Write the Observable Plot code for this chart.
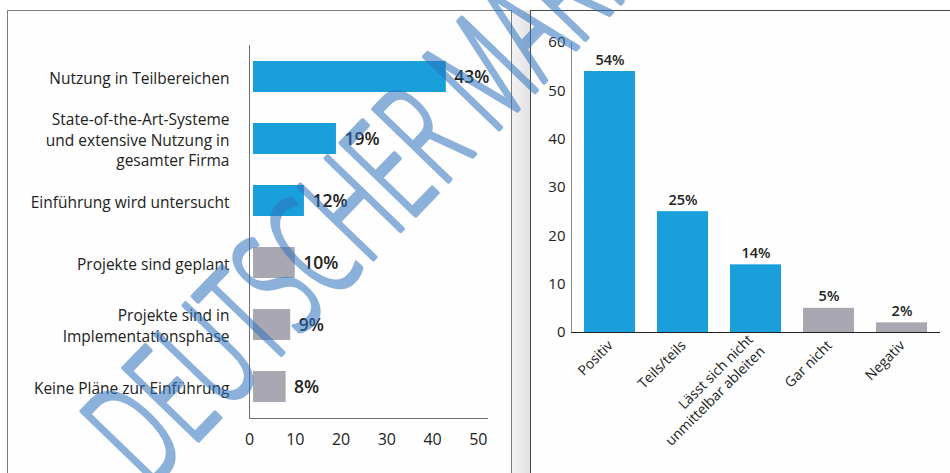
<!DOCTYPE html>
<html>
<head>
<meta charset="utf-8">
<script src="https://cdn.jsdelivr.net/npm/d3@7"></script>
<script src="https://cdn.jsdelivr.net/npm/@observablehq/plot@0.6"></script>
<style>
  html, body { margin: 0; padding: 0; background: #fff; }
  #page { position: relative; width: 950px; height: 473px; overflow: hidden; background: #fff;
          font-family: "Open Sans", "Noto Sans", sans-serif; }
  .panel { position: absolute; box-sizing: border-box; background: #fefefe; }
  #leftPanel { left: 7px; top: 10px; width: 505px; height: 480px; border: 1px solid #7d7d7d; }
  #gap { position: absolute; left: 512px; top: 10px; width: 19px; height: 470px;
         background: linear-gradient(to right, #f2f2f3, #e2e2e4); }
  #rightPanel { left: 530px; top: 10px; width: 440px; height: 480px; border: 1px solid #4a4a4a; }
  #leftChart, #rightChart, #stamp { position: absolute; top: 0; }
  #leftChart { left: 0; }
  #rightChart { left: 515px; }
  #stamp { left: 0; pointer-events: none; }
</style>
</head>
<body>
<div id="page">
  <div class="panel" id="leftPanel"></div>
  <div id="gap"></div>
  <div class="panel" id="rightPanel"></div>
  <div id="leftChart"></div>
  <div id="rightChart"></div>
  <svg id="stamp" width="950" height="473"></svg>
</div>
<script>
// ---- Data: left chart (status of adoption) ----
const leftCategories = [
  "Nutzung in Teilbereichen",
  "State-of-the-Art-Systeme\nund extensive Nutzung in\ngesamter Firma",
  "Einführung wird untersucht",
  "Projekte sind geplant",
  "Projekte sind in\nImplementationsphase",
  "Keine Pläne zur Einführung"
];
const leftValues = [43, 19, 12, 10, 9, 8];
const leftGroups = ["aktiv", "aktiv", "aktiv", "nicht aktiv", "nicht aktiv", "nicht aktiv"];
const leftTicks = [0, 10, 20, 30, 40, 50];

// ---- Data: right chart (assessment) ----
const rightCategories = ["Positiv", "Teils/teils", "Lässt sich nicht\nunmittelbar ableiten", "Gar nicht", "Negativ"];
const rightValues = [54, 25, 14, 5, 2];
const rightGroups = ["aktiv", "aktiv", "aktiv", "nicht aktiv", "nicht aktiv"];
const rightTicks = [0, 10, 20, 30, 40, 50, 60];

const stampText = "DEUTSCHER MARKT";

const groupDomain = ["aktiv", "nicht aktiv"];
const groupColors = ["#19a0db", "#a9a7b1"];

const leftData = leftCategories.map((c, i) => ({cat: c, value: leftValues[i], group: leftGroups[i]}));
const rightData = rightCategories.map((c, i) => ({cat: c, value: rightValues[i], group: rightGroups[i]}));

const font = "'Open Sans', 'Noto Sans', sans-serif";

const left = Plot.plot({
  width: 515, height: 473,
  marginLeft: 249, marginRight: 28, marginTop: 45, marginBottom: 55,
  style: {background: "transparent", overflow: "visible", fontFamily: font, color: "#222"},
  x: {domain: [0, 52]},
  y: {domain: leftCategories, paddingInner: 0.5, paddingOuter: 0.25},
  color: {domain: groupDomain, range: groupColors},
  marks: [
    Plot.barX(leftData, {x: "value", y: "cat", fill: "group", insetLeft: 4}),
    Plot.text(leftData, {x: "value", y: "cat", text: d => d.value + "%", textAnchor: "start",
      dx: 8, fontSize: 17.5, fontWeight: 600, fill: "#222"}),
    Plot.ruleX([0], {stroke: "#6e6e6e"}),
    Plot.frame({anchor: "bottom", stroke: "#6e6e6e"}),
    Plot.axisX({ticks: leftTicks, tickSize: 0, tickPadding: 15, fontSize: 16, label: null, fill: "#222"}),
    Plot.axisY({tickSize: 0, tickPadding: 20, fontSize: 15.5, lineHeight: 1.33, label: null, fill: "#222"})
  ]
});
document.getElementById("leftChart").append(left);

const right = Plot.plot({
  width: 435, height: 473,
  marginLeft: 56, marginRight: 10, marginTop: 42, marginBottom: 141,
  style: {background: "transparent", overflow: "visible", fontFamily: font, color: "#222"},
  x: {domain: rightCategories, paddingInner: 0.3, paddingOuter: 0.15},
  y: {domain: [0, 60]},
  color: {domain: groupDomain, range: groupColors},
  marks: [
    Plot.barY(rightData, {x: "cat", y: "value", fill: "group"}),
    Plot.text(rightData, {x: "cat", y: "value", text: d => d.value + "%", lineAnchor: "bottom",
      dy: -7, fontSize: 14.5, fontWeight: 600, fill: "#222"}),
    Plot.frame({anchor: "left", stroke: "#8a8a8a"}),
    Plot.ruleY([0], {stroke: "#222"}),
    Plot.axisY({ticks: rightTicks, tickSize: 0, tickPadding: 6, fontSize: 15, label: null, fill: "#222"}),
    Plot.axisX({tickSize: 0, tickPadding: 10, tickRotate: -45, fontSize: 14, lineHeight: 1.2, label: null, fill: "#222"})
  ]
});
document.getElementById("rightChart").append(right);

// ---- Watermark stamp overlay ----
const stamp = d3.select("#stamp");
stamp.append("g")
  .attr("opacity", 0.55)
  .append("text")
  .attr("transform", "translate(150,490) rotate(-46) scale(0.58,1)")
  .attr("font-family", "'Open Sans', sans-serif")
  .attr("font-weight", 300)
  .attr("font-size", 145)
  .attr("fill", "#2f74bf")
  .attr("stroke", "#2f74bf")
  .attr("stroke-width", 5)
  .attr("stroke-linejoin", "round")
  .attr("letter-spacing", 1)
  .text(stampText);
</script>
</body>
</html>
